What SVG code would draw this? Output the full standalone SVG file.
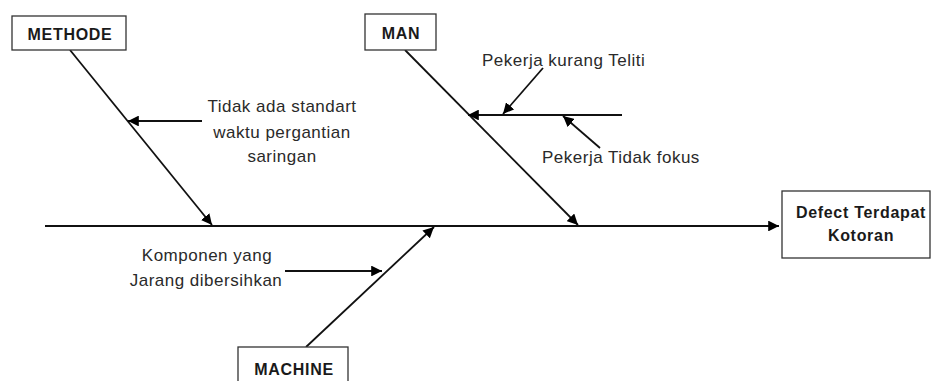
<svg xmlns="http://www.w3.org/2000/svg" width="932" height="381" viewBox="0 0 932 381">
<style>
.box{fill:#fff;stroke:#333;stroke-width:1.3}
.lbl{font-family:"Liberation Sans",Arial,sans-serif;font-size:16px;font-weight:bold;fill:#1a1a1a;text-anchor:middle;letter-spacing:0.7px}
.txt{font-family:"Liberation Sans",Arial,sans-serif;font-size:17px;fill:#2a2a2a;letter-spacing:0.5px}
.mid{text-anchor:middle}
.ln{stroke:#111;stroke-width:1.8;fill:none;marker-end:url(#ah)}
</style>
<defs>
<marker id="ah" viewBox="0 0 10 10" refX="10" refY="5" markerWidth="6" markerHeight="6" markerUnits="strokeWidth" orient="auto">
<path d="M0,0 L10,5 L0,10 z" fill="#000"/>
</marker>
</defs>
<rect width="932" height="381" fill="#fff"/>
<g id="connectors">
<line class="ln" x1="45" y1="226" x2="779" y2="226"/>
<line class="ln" x1="70" y1="50" x2="212" y2="225"/>
<line class="ln" x1="202" y1="121" x2="128" y2="121"/>
<line class="ln" x1="405" y1="50" x2="578" y2="225"/>
<line class="ln" x1="622" y1="115" x2="468" y2="115"/>
<line class="ln" x1="543" y1="68" x2="503" y2="114"/>
<line class="ln" x1="600" y1="148" x2="563" y2="116"/>
<line class="ln" x1="306" y1="347" x2="434" y2="227"/>
<line class="ln" x1="285" y1="271" x2="382" y2="271"/>
</g>
<g id="methode">
<rect class="box" x="12" y="16" width="114" height="34"/>
<text class="lbl" x="70" y="40">METHODE</text>
</g>
<g id="man">
<rect class="box" x="365" y="14" width="71" height="36"/>
<text class="lbl" x="401" y="39">MAN</text>
</g>
<g id="machine">
<rect class="box" x="238" y="347" width="110" height="40"/>
<text class="lbl" x="294" y="375">MACHINE</text>
</g>
<g id="effect">
<rect class="box" x="782" y="191" width="148" height="67"/>
<text class="lbl" x="861" y="218">Defect Terdapat</text>
<text class="lbl" x="861" y="241">Kotoran</text>
</g>
<g id="cause-methode">
<text class="txt mid" x="282" y="112">Tidak ada standart</text>
<text class="txt mid" x="282" y="138">waktu pergantian</text>
<text class="txt mid" x="282" y="162">saringan</text>
</g>
<g id="cause-man-1">
<text class="txt" x="482" y="66">Pekerja kurang Teliti</text>
</g>
<g id="cause-man-2">
<text class="txt" x="542" y="163">Pekerja Tidak fokus</text>
</g>
<g id="cause-machine">
<text class="txt mid" x="207" y="261">Komponen yang</text>
<text class="txt mid" x="206" y="286">Jarang dibersihkan</text>
</g>
</svg>
